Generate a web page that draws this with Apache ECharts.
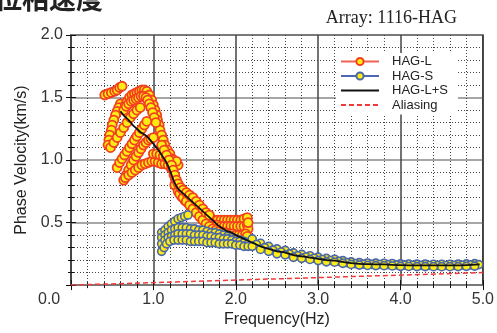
<!DOCTYPE html>
<html>
<head>
<meta charset="utf-8">
<script src="https://cdn.jsdelivr.net/npm/echarts@6/dist/echarts.min.js"></script>
<style>
html, body { margin: 0; padding: 0; background: #fff; }
#chart { width: 497px; height: 333px; }
</style>
</head>
<body>
<div id="chart"></div>
<script>
// tick labels
const xTickLabels = ['0.0', '1.0', '2.0', '3.0', '4.0', '5.0']
const yTickLabels = ['0.0', '0.5', '1.0', '1.5', '2.0']

// HAG-L branches [freq, velocity]
const hagL_a = [[0.41,1.52],[0.45,1.53],[0.49,1.54],[0.53,1.55],[0.56,1.56],[0.59,1.58],[0.62,1.59]]
const hagL_b = [[0.60,1.45],[0.58,1.42],[0.56,1.39],[0.54,1.36],[0.52,1.32],[0.50,1.28],[0.49,1.24],[0.47,1.20],[0.46,1.16],[0.45,1.12]]
const hagL_c = [[0.66,1.44],[0.68,1.47],[0.71,1.50],[0.74,1.52],[0.77,1.53],[0.80,1.54],[0.83,1.55],[0.86,1.56],[0.89,1.56],[0.92,1.55],[0.95,1.52],[0.98,1.48],[1.00,1.44],[1.02,1.40],[1.04,1.36],[1.05,1.32],[1.07,1.28],[1.08,1.24],[1.10,1.20],[1.12,1.16],[1.14,1.12],[1.17,1.08],[1.20,1.05],[1.23,1.01],[1.26,0.97]]
const hagL_d = [[0.64,1.40],[0.67,1.43],[0.70,1.45],[0.73,1.47],[0.76,1.48],[0.79,1.49],[0.82,1.50],[0.85,1.51],[0.88,1.51],[0.91,1.50],[0.93,1.48],[0.95,1.45],[0.97,1.42],[0.99,1.38],[1.01,1.34],[1.03,1.30]]
const hagL_e = [[0.56,0.94],[0.59,0.98],[0.62,1.01],[0.65,1.04],[0.68,1.07],[0.71,1.10],[0.74,1.13],[0.77,1.16],[0.80,1.19],[0.83,1.22],[0.86,1.25],[0.89,1.28],[0.92,1.31]]
const hagL_f = [[0.64,0.84],[0.67,0.88],[0.70,0.92],[0.73,0.96],[0.76,1.00],[0.79,1.03],[0.82,1.06],[0.85,1.09],[0.88,1.12],[0.91,1.14],[0.94,1.16],[0.97,1.17],[1.00,1.18]]
const hagL_g = [[0.66,0.86],[0.70,0.88],[0.74,0.90],[0.78,0.92],[0.82,0.94],[0.86,0.96],[0.90,0.97],[0.94,0.98],[0.98,0.99],[1.02,0.99],[1.06,0.98],[1.10,0.97],[1.14,0.97],[1.18,0.96],[1.22,0.96],[1.26,0.96],[1.30,0.96]]
const hagL_h = [[0.48,1.10],[0.52,1.14],[0.56,1.18],[0.60,1.22],[0.64,1.26],[0.68,1.30],[0.72,1.34],[0.76,1.37],[0.80,1.40],[0.84,1.42]]
const hagL_i = [[1.00,1.05],[1.04,1.05],[1.08,1.04],[1.12,1.03],[1.16,1.02],[1.20,1.01],[1.24,1.00],[1.28,0.99]]
const hagL_j = [[1.22,0.93],[1.25,0.88],[1.27,0.84],[1.29,0.80],[1.31,0.77],[1.34,0.74],[1.38,0.72],[1.42,0.70],[1.46,0.68],[1.50,0.65],[1.54,0.62],[1.58,0.60],[1.62,0.57],[1.66,0.55],[1.70,0.53],[1.74,0.52],[1.78,0.52],[1.82,0.52],[1.86,0.52],[1.90,0.52],[1.94,0.52],[1.98,0.52],[2.02,0.52],[2.06,0.52],[2.10,0.53],[2.14,0.54]]
const hagL_k = [[1.26,0.80],[1.30,0.75],[1.34,0.71],[1.38,0.68],[1.42,0.66],[1.46,0.63],[1.50,0.60],[1.54,0.57],[1.58,0.54],[1.62,0.52],[1.66,0.50],[1.70,0.49],[1.74,0.48],[1.78,0.48],[1.82,0.47],[1.86,0.47],[1.90,0.47],[1.94,0.47],[1.98,0.47],[2.02,0.47],[2.06,0.47],[2.10,0.47],[2.14,0.48],[2.15,0.45],[2.15,0.50]]
const hagL_l = [[1.32,0.73],[1.36,0.70],[1.40,0.67],[1.44,0.64],[1.48,0.61],[1.52,0.58],[1.56,0.55],[1.60,0.52],[1.64,0.49],[1.68,0.47],[1.72,0.45],[1.76,0.44],[1.80,0.43],[1.84,0.42],[1.88,0.42],[1.92,0.41],[1.96,0.41],[2.00,0.40],[2.04,0.40],[2.08,0.40],[2.12,0.41],[2.14,0.39]]
const hagL_m = [[1.10,1.12],[1.13,1.08],[1.16,1.04],[1.19,1.00],[1.22,0.96],[1.24,0.92],[1.26,0.88],[1.28,0.84],[1.30,0.81],[1.33,0.78],[1.36,0.76],[1.40,0.74],[1.44,0.72],[1.48,0.70],[1.52,0.67],[1.56,0.64],[1.60,0.61],[1.64,0.58],[1.68,0.56]]

// HAG-S branches, low frequency part
const hagS_a = [[1.10,0.42],[1.14,0.44],[1.18,0.47],[1.22,0.49],[1.26,0.51],[1.30,0.53],[1.34,0.54],[1.38,0.55],[1.42,0.56]]
const hagS_b = [[1.10,0.38],[1.14,0.40],[1.18,0.42],[1.22,0.44],[1.26,0.45],[1.30,0.46],[1.35,0.46],[1.40,0.46],[1.45,0.45],[1.50,0.45],[1.55,0.44],[1.60,0.44],[1.65,0.43],[1.70,0.42],[1.75,0.42],[1.80,0.41],[1.85,0.40],[1.90,0.39],[1.95,0.38],[2.00,0.37],[2.05,0.36],[2.10,0.35],[2.15,0.34]]
const hagS_c = [[1.10,0.33],[1.14,0.36],[1.18,0.38],[1.22,0.39],[1.26,0.40],[1.30,0.41],[1.35,0.41],[1.40,0.41],[1.45,0.41],[1.50,0.40],[1.55,0.40],[1.60,0.40],[1.65,0.39],[1.70,0.39],[1.75,0.38],[1.80,0.38],[1.85,0.37],[1.90,0.37],[1.95,0.36],[2.00,0.35],[2.05,0.35],[2.10,0.34],[2.15,0.33]]
const hagS_d = [[1.10,0.27],[1.13,0.30],[1.16,0.33],[1.20,0.35],[1.25,0.36],[1.30,0.36],[1.35,0.36],[1.40,0.36],[1.45,0.35],[1.50,0.35],[1.55,0.35],[1.60,0.35],[1.65,0.34],[1.70,0.34],[1.75,0.34],[1.80,0.33],[1.85,0.33],[1.90,0.33],[1.95,0.33],[2.00,0.32],[2.05,0.32],[2.10,0.31],[2.15,0.31]]

// HAG-S, high frequency part (three close rows)
const freqS_ac = [2.2,2.3,2.4,2.5,2.6,2.7,2.8,2.9,3.0,3.1,3.2,3.3,3.4,3.5,3.6,3.7,3.8,3.9,4.0,4.1,4.2,4.3,4.4,4.5,4.6,4.7,4.8,4.9]
const velS_upper = [0.37,0.335,0.31,0.29,0.278,0.258,0.246,0.235,0.224,0.214,0.207,0.196,0.186,0.18,0.177,0.176,0.175,0.173,0.17,0.169,0.168,0.168,0.167,0.167,0.167,0.168,0.17,0.172]
const velS_lower = [0.31,0.285,0.27,0.25,0.242,0.222,0.214,0.205,0.196,0.186,0.183,0.174,0.165,0.16,0.157,0.156,0.155,0.153,0.15,0.149,0.148,0.148,0.147,0.147,0.147,0.148,0.15,0.152]
const freqS_b = [2.25,2.35,2.45,2.55,2.65,2.75,2.85,2.95,3.05,3.15,3.25,3.35,3.45,3.55,3.65,3.75,3.85,3.95,4.05,4.15,4.25,4.35,4.45,4.55,4.65,4.75,4.85,4.95]
const velS_mid = [0.325,0.30,0.28,0.265,0.25,0.235,0.225,0.215,0.205,0.197,0.19,0.18,0.172,0.168,0.166,0.165,0.164,0.162,0.16,0.159,0.158,0.157,0.157,0.157,0.158,0.159,0.161,0.164]

// HAG-L+S average curve
const freqLS = [0.60,0.65,0.70,0.75,0.80,0.85,0.90,0.95,1.00,1.05,1.10,1.15,1.20,1.25,1.30,1.35,1.40,1.45,1.50,1.55,1.60,1.65,1.70,1.75,1.80,1.85,1.90,1.95,2.00,2.10,2.20,2.30,2.40,2.50,2.60,2.70,2.80,2.90,3.00,3.10,3.20,3.30,3.40,3.50,3.60,3.80,4.00,4.20,4.40,4.60,4.80,4.96]
const velLS = [1.39,1.35,1.32,1.28,1.25,1.22,1.20,1.17,1.13,1.09,1.04,0.99,0.92,0.83,0.77,0.74,0.71,0.68,0.65,0.62,0.59,0.56,0.53,0.50,0.47,0.45,0.43,0.42,0.40,0.37,0.34,0.31,0.29,0.27,0.26,0.24,0.23,0.22,0.21,0.20,0.195,0.185,0.175,0.17,0.167,0.165,0.16,0.158,0.157,0.157,0.16,0.165]

// aliasing limit
const freqAlias = [0, 5]
const velAlias = [0, 0.1]

const zip = (xs, ys) => xs.map((x, i) => [x, ys[i]])

const hagL = [].concat(hagL_a, hagL_b, hagL_c, hagL_d, hagL_e, hagL_f, hagL_g, hagL_h, hagL_i, hagL_j, hagL_k, hagL_l, hagL_m)
const hagS = [].concat(hagS_a, hagS_b, hagS_c, hagS_d,
  zip(freqS_ac, velS_upper), zip(freqS_b, velS_mid), zip(freqS_ac, velS_lower))

const labelFont = 'Liberation Sans, Arial, sans-serif'
const minorLine = { show: true, lineStyle: { color: '#444', type: [1, 2], width: 1 } }
const innerTick = { show: true, inside: true, length: 5, lineStyle: { color: '#111', width: 1 } }
const innerMinor = { show: true, splitNumber: 5, length: 3, lineStyle: { color: '#111', width: 1 } }

const chart = echarts.init(document.getElementById('chart'))
chart.setOption({
  animation: false,
  textStyle: { fontFamily: labelFont },
  grid: {
    left: 71, right: 14, top: 35, bottom: 43,
    show: true, borderColor: '#111', borderWidth: 1.5
  },
  graphic: [
    {
      type: 'text', left: -5, top: -15,
      style: { text: '位相速度', font: 'bold 27px "Noto Sans CJK JP"', fill: '#222' }
    },
    {
      type: 'text', right: 40, top: 9,
      style: { text: 'Array: 1116-HAG', font: '18px "Liberation Serif", serif', fill: '#222' }
    },
    {
      type: 'text', left: 38, top: 292,
      style: { text: '0.0', font: '16px ' + labelFont, fill: '#333' }
    }
  ],
  legend: {
    orient: 'vertical',
    left: 336,
    top: 53,
    backgroundColor: '#fff',
    padding: [2, 10, 3, 4],
    itemWidth: 38,
    itemHeight: 9,
    itemGap: 1.5,
    textStyle: { fontSize: 13, color: '#222', padding: [0, 0, 0, 8], fontFamily: labelFont },
    data: [
      { name: 'HAG-L', lineStyle: { opacity: 1 } },
      { name: 'HAG-S', lineStyle: { opacity: 1 } },
      { name: 'HAG-L+S', itemStyle: { opacity: 0 } },
      { name: 'Aliasing', itemStyle: { opacity: 0 } }
    ]
  },
  xAxis: [
    {
      type: 'value', min: 0, max: 5, interval: 1,
      name: 'Frequency(Hz)', nameLocation: 'middle', nameGap: 25,
      nameTextStyle: { fontSize: 16, color: '#222' },
      axisLine: { show: false },
      axisTick: innerTick,
      minorTick: innerMinor,
      axisLabel: {
        fontSize: 16, color: '#333', margin: 6, showMinLabel: false,
        formatter: (v) => xTickLabels[Math.round(v)]
      },
      splitLine: { lineStyle: { color: '#444', width: 1.5 } },
      minorSplitLine: minorLine
    },
    {
      type: 'value', min: 0, max: 5, interval: 1, position: 'top',
      axisLine: { show: false },
      axisTick: innerTick,
      minorTick: innerMinor,
      axisLabel: { show: false },
      splitLine: { show: false }
    }
  ],
  yAxis: [
    {
      type: 'value', min: 0, max: 2, interval: 0.5,
      name: 'Phase Velocity(km/s)', nameLocation: 'middle', nameGap: 40,
      nameTextStyle: { fontSize: 16, color: '#222' },
      axisLine: { show: false },
      axisTick: innerTick,
      minorTick: innerMinor,
      axisLabel: {
        fontSize: 16, color: '#333', margin: 8, showMinLabel: false,
        formatter: (v) => yTickLabels[Math.round(v * 2)]
      },
      splitLine: { lineStyle: { color: '#888', width: 1.5 } },
      minorSplitLine: minorLine
    },
    {
      type: 'value', min: 0, max: 2, interval: 0.5, position: 'right',
      axisLine: { show: false },
      axisTick: innerTick,
      minorTick: innerMinor,
      axisLabel: { show: false },
      splitLine: { show: false }
    }
  ],
  series: [
    {
      name: 'HAG-L', type: 'line', data: hagL,
      symbol: 'circle', symbolSize: 9, showSymbol: true,
      itemStyle: { color: '#ffeb14', borderColor: '#f2401e', borderWidth: 1.8 },
      lineStyle: { color: '#f0645a', width: 2, opacity: 0 },
      emphasis: { disabled: true }, z: 2
    },
    {
      name: 'HAG-S', type: 'line', data: hagS,
      symbol: 'circle', symbolSize: 8, showSymbol: true,
      itemStyle: { color: '#ffeb14', borderColor: '#4a67a8', borderWidth: 1.6 },
      lineStyle: { color: '#4a67b0', width: 2, opacity: 0 },
      emphasis: { disabled: true }, z: 3
    },
    {
      name: 'HAG-L+S', type: 'line', data: zip(freqLS, velLS),
      symbol: 'none', smooth: 0.3,
      lineStyle: { color: '#111', width: 1.8 },
      itemStyle: { color: '#111' },
      emphasis: { disabled: true }, z: 4
    },
    {
      name: 'Aliasing', type: 'line', data: zip(freqAlias, velAlias),
      symbol: 'none',
      lineStyle: { color: '#f03a3a', width: 1.5, type: [5, 3] },
      itemStyle: { color: '#f03a3a' },
      emphasis: { disabled: true }, z: 4
    }
  ]
})
</script>
</body>
</html>
